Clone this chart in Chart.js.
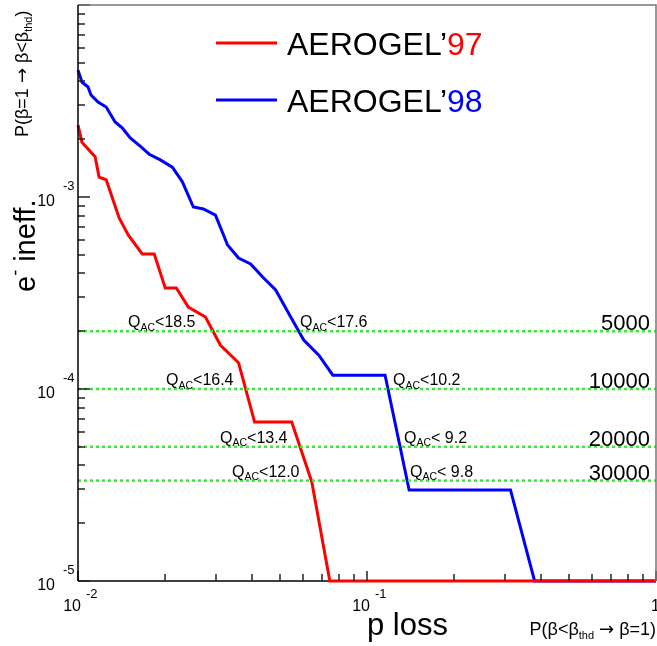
<!DOCTYPE html>
<html>
<head>
<meta charset="utf-8">
<script src="https://cdn.jsdelivr.net/npm/chart.js@4.4.1/dist/chart.umd.min.js"></script>
<style>
  body { margin: 0; background: #fff; }
  #wrap { width: 657px; height: 646px; }
</style>
</head>
<body>
<div id="wrap"><canvas id="chart"></canvas></div>
<script>
// p loss (x) vs e- inefficiency (y)
const loss97 = [0.01, 0.01032, 0.01146, 0.01183, 0.01252, 0.01388, 0.01492, 0.01668, 0.01836, 0.02004,
  0.02189, 0.02409, 0.02761, 0.03112, 0.03594, 0.04084, 0.05489, 0.06442, 0.07436, 1];
const ineff97 = [2.37e-3, 1.93e-3, 1.62e-3, 1.27e-3, 1.23e-3, 7.78e-4, 6.34e-4, 5.05e-4, 5.05e-4, 3.36e-4,
  3.36e-4, 2.67e-4, 2.37e-4, 1.69e-4, 1.37e-4, 6.73e-5, 6.73e-5, 3.28e-5, 1e-5, 1e-5];

const loss98 = [0.01, 0.01032, 0.01083, 0.01109, 0.01173, 0.01252, 0.01344, 0.01422, 0.01516, 0.01641,
  0.01764, 0.01927, 0.0212, 0.02297, 0.02507, 0.02716, 0.0299, 0.03292, 0.03594, 0.03956,
  0.04355, 0.04831, 0.05445, 0.06041, 0.06813, 0.07617, 0.1155, 0.1399, 0.3137, 0.3801, 1];
const ineff98 = [4.58e-3, 3.97e-3, 3.74e-3, 3.40e-3, 3.12e-3, 2.94e-3, 2.46e-3, 2.29e-3, 2.03e-3, 1.84e-3,
  1.67e-3, 1.56e-3, 1.43e-3, 1.20e-3, 8.87e-4, 8.66e-4, 8.05e-4, 5.62e-4, 4.81e-4, 4.48e-4,
  3.83e-4, 3.28e-4, 2.37e-4, 1.80e-4, 1.50e-4, 1.18e-4, 1.18e-4, 2.98e-5, 2.98e-5, 1e-5, 1e-5];

// pion rejection levels (dotted green lines at 1/N)
const rejection = [5000, 10000, 20000, 30000];
const cut97 = ["18.5", "16.4", "13.4", "12.0"];
const cut98 = ["17.6", "10.2", " 9.2", " 9.8"];

const xDecades = [-2, -1, 0];
const yDecades = [-5, -4, -3, -2];

const FONT = "'Liberation Sans', Arial, Helvetica, sans-serif";
const ARROW_FONT = "'DejaVu Sans', sans-serif";

function pts(xs, ys) {
  return xs.map((x, i) => ({ x: x, y: ys[i] }));
}

const datasets = rejection.map((n) => ({
  data: [{ x: 0.01, y: 1 / n }, { x: 1, y: 1 / n }],
  borderColor: "#3be83b",
  borderWidth: 2.5,
  borderDash: [3, 3],
  pointRadius: 0,
  clip: 3
}));
datasets.push({
  data: pts(loss97, ineff97),
  borderColor: "#ff0000",
  borderWidth: 3,
  pointRadius: 0,
  tension: 0,
  clip: 4
});
datasets.push({
  data: pts(loss98, ineff98),
  borderColor: "#0000ff",
  borderWidth: 3,
  pointRadius: 0,
  tension: 0,
  clip: 4
});

// draw text with sub/superscript parts: [text, size, dy, color, font]
function drawParts(ctx, x, y, parts) {
  let cx = x;
  parts.forEach((p) => {
    ctx.font = p[1] + "px " + (p[4] || FONT);
    ctx.fillStyle = p[3] || "#000";
    ctx.fillText(p[0], cx, y + p[2]);
    cx += ctx.measureText(p[0]).width;
  });
  return cx - x;
}

function partsWidth(ctx, parts) {
  let w = 0;
  parts.forEach((p) => {
    ctx.font = p[1] + "px " + (p[4] || FONT);
    w += ctx.measureText(p[0]).width;
  });
  return w;
}

function tick(ctx, x1, y1, x2, y2) {
  ctx.beginPath();
  ctx.moveTo(x1, y1);
  ctx.lineTo(x2, y2);
  ctx.stroke();
}

const framePlugin = {
  id: "frame",
  beforeDatasetsDraw(chart) {
    const { ctx, chartArea: a } = chart;
    ctx.save();
    ctx.strokeStyle = "#000";
    ctx.lineWidth = 1.5;
    tick(ctx, a.left, a.bottom, a.right, a.bottom);
    ctx.restore();
  },
  afterDatasetsDraw(chart) {
    const { ctx, chartArea: a, scales } = chart;
    ctx.save();
    ctx.setLineDash([]);

    // log ticks, inside the frame
    ctx.strokeStyle = "#222";
    ctx.lineWidth = 1.5;
    yDecades.forEach((d) => {
      for (let m = 1; m <= 9; m++) {
        const v = m * Math.pow(10, d);
        const py = Math.round(scales.y.getPixelForValue(v));
        if (py < a.top || py > a.bottom + 1) continue;
        tick(ctx, a.left, py, a.left + (m === 1 ? 12 : 7), py);
      }
    });
    xDecades.forEach((d) => {
      for (let m = 1; m <= 9; m++) {
        const v = m * Math.pow(10, d);
        const px = Math.round(scales.x.getPixelForValue(v));
        if (px < a.left || px > a.right + 1) continue;
        tick(ctx, px, a.bottom, px, a.bottom - (m === 1 ? 10 : 7));
      }
    });

    // top and right frame
    ctx.strokeStyle = "#777";
    ctx.beginPath();
    ctx.moveTo(a.left, a.top);
    ctx.lineTo(a.right, a.top);
    ctx.lineTo(a.right, a.bottom);
    ctx.stroke();
    // left axis
    ctx.strokeStyle = "#000";
    tick(ctx, a.left, a.top, a.left, a.bottom);

    ctx.textBaseline = "alphabetic";
    ctx.textAlign = "left";

    // y tick labels
    yDecades.forEach((d) => {
      if (d === -2) return;
      const py = scales.y.getPixelForValue(Math.pow(10, d));
      ctx.font = "16px " + FONT;
      ctx.fillStyle = "#000";
      ctx.textAlign = "right";
      ctx.fillText("10", a.left - 23, py + 9);
      ctx.textAlign = "left";
      ctx.font = "13px " + FONT;
      ctx.fillText(String(d), a.left - 15, py - 7);
    });

    // x tick labels
    xDecades.forEach((d) => {
      const px = scales.x.getPixelForValue(Math.pow(10, d));
      ctx.fillStyle = "#000";
      ctx.font = "16px " + FONT;
      ctx.textAlign = "right";
      if (d === 0) {
        ctx.fillText("1", px + 4, a.bottom + 30);
        ctx.textAlign = "left";
        return;
      }
      ctx.fillText("10", px + 3, a.bottom + 30);
      ctx.textAlign = "left";
      ctx.font = "13px " + FONT;
      ctx.fillText(String(d), px + 8, a.bottom + 17);
    });

    // QAC cut labels and rejection numbers above each dotted line
    const x97 = [128, 166, 220, 232];
    const x98 = [300, 393, 404, 410];
    rejection.forEach((n, i) => {
      const py = scales.y.getPixelForValue(1 / n);
      drawParts(ctx, x97[i], py - 4, [["Q", 16, 0], ["AC", 10.5, 3.5], ["<" + cut97[i], 16, 0]]);
      drawParts(ctx, x98[i], py - 4, [["Q", 16, 0], ["AC", 10.5, 3.5], ["<" + cut98[i], 16, 0]]);
      ctx.font = "22px " + FONT;
      ctx.fillStyle = "#000";
      ctx.textAlign = "right";
      ctx.fillText(String(n), a.right - 6, py - 1);
      ctx.textAlign = "left";
    });

    // legend
    const leg = [["97", "#ff0000", 43], ["98", "#0000ff", 100]];
    leg.forEach((l) => {
      ctx.strokeStyle = l[1];
      ctx.lineWidth = 3;
      tick(ctx, 216, l[2], 277, l[2]);
      drawParts(ctx, 287, l[2] + 12, [["AEROGEL\u2019", 32, 0, "#000"], [l[0], 32, 0, l[1]]]);
    });

    // x title
    ctx.font = "31px " + FONT;
    ctx.fillStyle = "#000";
    ctx.fillText("p loss", 367, 635);

    // bottom right note
    const noteX = [["P(\u03b2<\u03b2", 18, 0], ["thd", 11, 4], [" ", 18, 0], ["\u2192", 18, 0, "#000", ARROW_FONT], [" \u03b2=1)", 18, 0]];
    const wX = partsWidth(ctx, noteX);
    drawParts(ctx, 656 - wX, 635, noteX);

    // y title, rotated
    ctx.save();
    ctx.translate(35, 292);
    ctx.rotate(-Math.PI / 2);
    drawParts(ctx, 0, 0, [["e", 29, 0], ["-", 18, -14], [" ineff.", 29, 0]]);
    ctx.restore();

    // top-left note, rotated
    ctx.save();
    ctx.translate(28, 137);
    ctx.rotate(-Math.PI / 2);
    drawParts(ctx, 0, 0, [["P(\u03b2=1 ", 18, 0], ["\u2192", 18, 0, "#000", ARROW_FONT], [" \u03b2<\u03b2", 18, 0], ["thd", 11, 4], [")", 18, 0]]);
    ctx.restore();

    ctx.restore();
  }
};

new Chart(document.getElementById("chart"), {
  type: "line",
  data: { datasets: datasets },
  options: {
    responsive: true,
    maintainAspectRatio: false,
    animation: false,
    layout: { padding: { left: 78, right: 1, top: 5, bottom: 65 } },
    plugins: { legend: { display: false }, tooltip: { enabled: false } },
    scales: {
      x: { type: "logarithmic", min: 0.01, max: 1, display: false },
      y: { type: "logarithmic", min: 1e-5, max: 1e-2, display: false }
    }
  },
  plugins: [framePlugin]
});
</script>
</body>
</html>
